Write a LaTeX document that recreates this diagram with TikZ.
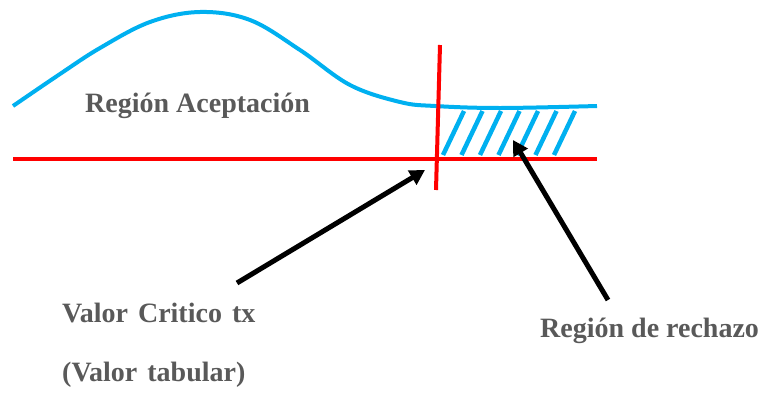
\documentclass[tikz,border=0pt]{standalone}
\usepackage{fontspec}
\setmainfont{Liberation Serif}
\usetikzlibrary{arrows.meta}
\definecolor{curveblue}{RGB}{0,176,240}
\definecolor{axisred}{RGB}{255,0,0}
\definecolor{txtgray}{RGB}{89,89,89}
\tikzset{
  curvestyle/.style={draw=curveblue, line width=4pt},
  redline/.style={draw=axisred, line width=4pt},
  hatchline/.style={draw=curveblue, line width=4.5pt},
  pointer/.style={draw=black, line width=5pt, -{Triangle[length=15pt,width=16pt]}},
  label/.style={text=txtgray, font=\fontsize{28}{33}\selectfont\bfseries, inner sep=0pt, anchor=base west}
}
\newcommand{\wsp}{\hspace{10pt}}
\begin{document}
\begin{tikzpicture}[x=1pt,y=-1pt]
\useasboundingbox (0,0) rectangle (761,394);
% curve
\draw[curvestyle] plot[smooth, tension=0.6] coordinates {(13,106) (60,74) (100,48) (150,22) (200,12) (250,20) (300,50) (350,85) (400,102) (435,106) (500,108) (597,106)};
% hatching
\foreach \i in {0,...,6} {
  \draw[hatchline] (443+18.5*\i,155) -- (464+18.5*\i,111);
}
% axes
\draw[redline] (13,159) -- (597,159);
\draw[redline] (440,45) -- (436,190);
% labels
\node[label] (acep) at (85,112) {Región Aceptación};
\node[label] (valor) at (62,322) {Valor\wsp Critico\wsp tx};
\node[label] (tab) at (62,381) {(Valor\wsp tabular)};
\node[label] (rech) at (540,337) {Región de rechazo};
% arrow coordinates
\coordinate (t1) at (237,283);
\coordinate (h1) at (425,170);
\coordinate (t2) at (608,300);
\coordinate (h2) at (513,140);
\draw[pointer] (t1) -- (h1);
\draw[pointer] (t2) -- (h2);
\end{tikzpicture}
\end{document}
